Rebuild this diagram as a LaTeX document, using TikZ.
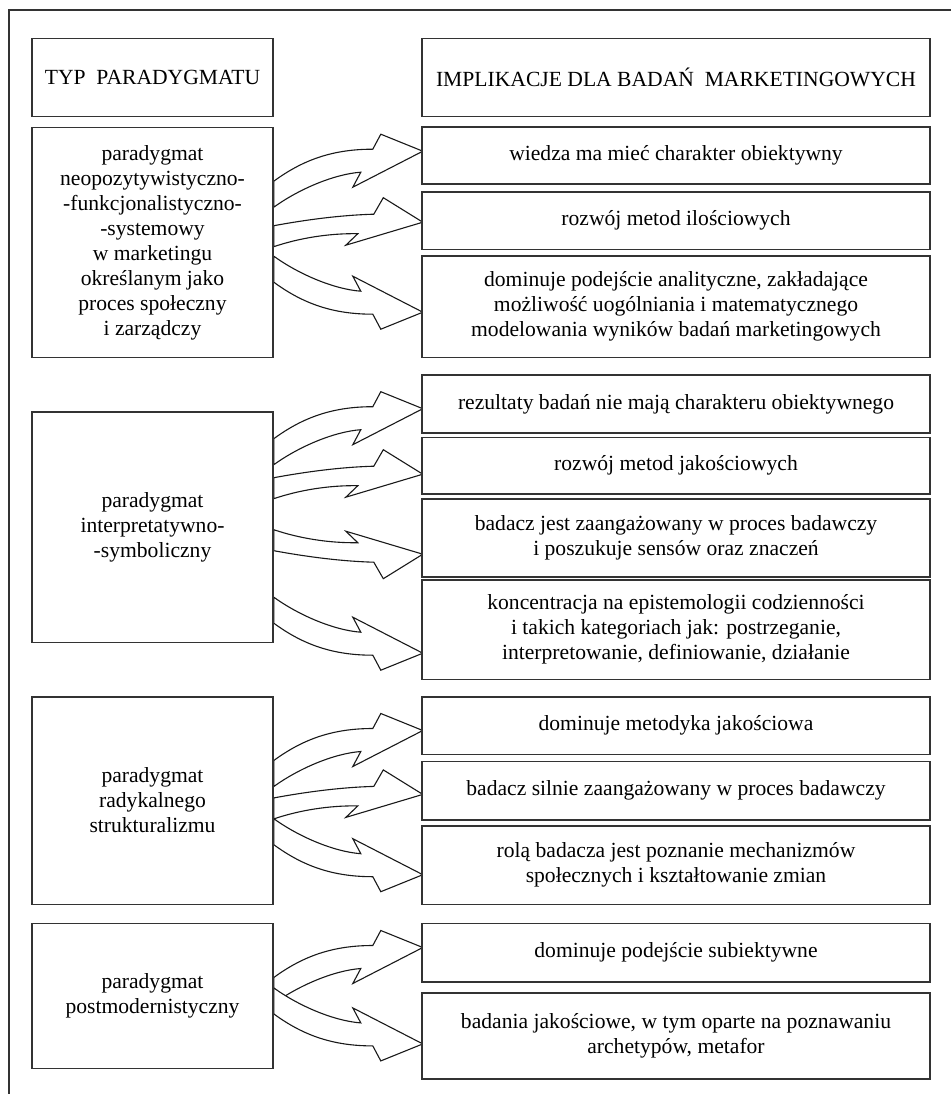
\documentclass[tikz,border=0pt]{standalone}
\usepackage{fontspec}
\setmainfont{Liberation Serif}
\usetikzlibrary{calc}
\pgfdeclarelayer{bg}
\pgfsetlayers{bg,main}
\tikzset{
  x=1pt, y=-1pt,
  box/.style={draw=black!80, line width=1.6pt, fill=white, inner sep=0pt, align=center,
    font=\fontsize{21.6}{25}\selectfont},
  arr/.style={draw=black!90, line width=1.1pt, fill=white, line join=miter},
  frame/.style={draw=black!80, line width=1.2pt},
  steeparrow/.pic={\path[arr] (0,-13) .. controls (30,-35) and (60,-45) .. (99,-45)
     -- (107,-60) -- (149,-43) -- (79,-7) -- (87,-22)
     .. controls (60,-20) and (25,-5) .. (0,13) -- cycle;},
  flatarrow/.pic={\path[arr] (0,-10.5) .. controls (30,-16) and (65,-21) .. (100,-22)
     -- (109.5,-38.5) -- (149,-14) -- (72,9) -- (84,-2.5)
     .. controls (55,-3) and (25,2) .. (0,10.5) -- cycle;},
}
\newcommand\bx[6]{\node[box, minimum width={(#4-#2)*1pt}, minimum height={(#5-#3)*1pt}]
  (#1) at ({(#2+#4)/2},{(#3+#5)/2}) {#6};}
\begin{document}
\begin{tikzpicture}
\useasboundingbox (0,0) rectangle (951,1094);
\draw[frame] (9,1094) -- (9,10) -- (951,10);
% headers
\bx{L0}{32}{38.5}{273}{116.5}{TYP\ \ PARADYGMATU}
\bx{R0}{422}{38.5}{930}{116.5}{IMPLIKACJE DLA BADAŃ\ \ MARKETINGOWYCH}
% group 1
\bx{L1}{32}{127.5}{273}{357.3}{paradygmat\\neopozytywistyczno-\\-funkcjonalistyczno-\\-systemowy\\w marketingu\\określanym jako\\proces społeczny\\i zarządczy}
\bx{R1}{422}{127.3}{930}{184.3}{wiedza ma mieć charakter obiektywny}
\bx{R2}{422}{192}{930}{249.3}{rozwój metod ilościowych}
\bx{R3}{422}{256}{930}{357.3}{dominuje podejście analityczne, zakładające\\możliwość uogólniania i matematycznego\\modelowania wyników badań marketingowych}
% group 2
\bx{L2}{32}{411.7}{273}{642.3}{paradygmat\\interpretatywno-\\-symboliczny}
\bx{R4}{422}{375}{930}{433}{rezultaty badań nie mają charakteru obiektywnego}
\bx{R5}{422}{437.3}{930}{494}{rozwój metod jakościowych}
\bx{R6}{422}{499}{930}{577}{badacz jest zaangażowany w proces badawczy\\i poszukuje sensów oraz znaczeń}
\bx{R7}{422}{580}{930}{679.3}{koncentracja na epistemologii codzienności\\i takich kategoriach jak: postrzeganie,\\interpretowanie, definiowanie, działanie}
% group 3
\bx{L3}{32}{696.7}{273}{904.3}{paradygmat\\radykalnego\\strukturalizmu}
\bx{R8}{422}{697}{930}{754.5}{dominuje metodyka jakościowa}
\bx{R9}{422}{761.5}{930}{820}{badacz silnie zaangażowany w proces badawczy}
\bx{R10}{422}{826}{930}{904.3}{rolą badacza jest poznanie mechanizmów\\społecznych i kształtowanie zmian}
% group 4
\bx{L4}{32}{923.3}{273}{1068.3}{paradygmat\\postmodernistyczny}
\bx{R11}{422}{923.3}{930}{981.7}{dominuje podejście subiektywne}
\bx{R12}{422}{992.7}{930}{1079}{badania jakościowe, w tym oparte na poznawaniu\\archetypów, metafor}
% arrows
\begin{pgfonlayer}{bg}
\pic at ($(L1.north east)+(0,67.5)$) {steeparrow};
\pic at ($(L1.north east)+(0,109.5)$) {flatarrow};
\pic[yscale=-1] at ($(L1.north east)+(0,142.5)$) {steeparrow};
\pic at ($(L2.north east)+(0,40.8)$) {steeparrow};
\pic at ($(L2.north east)+(0,77.3)$) {flatarrow};
\pic[yscale=-1] at ($(L2.north east)+(0,129.3)$) {flatarrow};
\pic[yscale=-1] at ($(L2.north east)+(0,199.3)$) {steeparrow};
\pic at ($(L3.north east)+(0,77.6)$) {steeparrow};
\pic at ($(L3.north east)+(0,112.5)$) {flatarrow};
\pic[yscale=-1] at ($(L3.north east)+(0,135.8)$) {steeparrow};
\pic at ($(L4.north east)+(0,68)$) {steeparrow};
\pic[yscale=-1] at ($(L4.north east)+(0,78.4)$) {steeparrow};
\end{pgfonlayer}
\end{tikzpicture}
\end{document}
